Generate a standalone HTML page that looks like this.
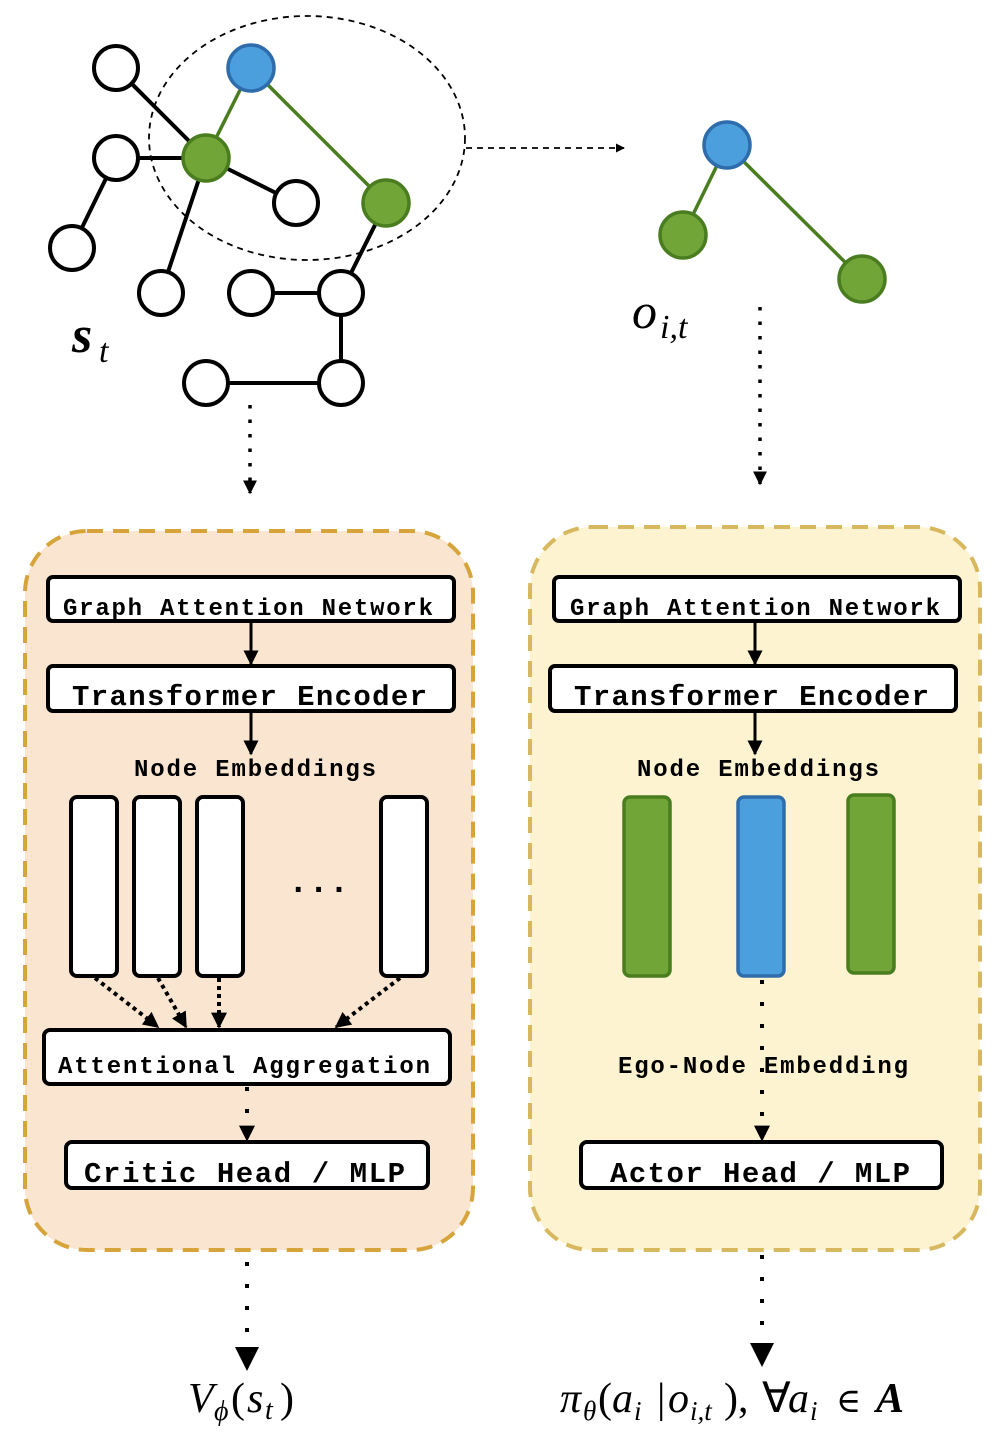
<!DOCTYPE html>
<html><head><meta charset="utf-8"><style>
html,body{margin:0;padding:0;background:#fff;}
svg{display:block;}
.m{font-family:"Liberation Mono",monospace;font-weight:bold;fill:#000;}
.math{font-family:"Liberation Serif",serif;font-style:italic;fill:#000;}
</style></head><body>
<svg width="1002" height="1438" viewBox="0 0 1002 1438" xmlns="http://www.w3.org/2000/svg">
<defs>
<marker id="ah" viewBox="0 0 10 10" refX="9" refY="5" markerWidth="5" markerHeight="5" orient="auto-start-reverse"><path d="M0,0L10,5L0,10z" fill="#000"/></marker>
<marker id="ah2" viewBox="0 0 10 10" refX="9" refY="5" markerWidth="4" markerHeight="4" orient="auto-start-reverse"><path d="M0,0L10,5L0,10z" fill="#000"/></marker>
</defs>
<!-- left graph -->
<g stroke="#000" stroke-width="4" fill="none">
<line x1="116" y1="68" x2="206" y2="158"/>
<line x1="116" y1="158" x2="206" y2="158"/>
<line x1="116" y1="158" x2="72" y2="248"/>
<line x1="206" y1="158" x2="296" y2="203"/>
<line x1="206" y1="158" x2="161" y2="293"/>
<line x1="386" y1="203" x2="341" y2="293"/>
<line x1="251" y1="293" x2="341" y2="293"/>
<line x1="341" y1="293" x2="341" y2="383"/>
<line x1="206" y1="383" x2="341" y2="383"/>
</g>
<g stroke="#4a7d20" stroke-width="3.5">
<line x1="251" y1="68" x2="206" y2="158"/>
<line x1="251" y1="68" x2="386" y2="203"/>
</g>
<ellipse cx="307" cy="138" rx="158" ry="122" fill="none" stroke="#000" stroke-width="1.8" stroke-dasharray="6,5"/>
<g fill="#fff" stroke="#000" stroke-width="4">
<circle cx="116" cy="68" r="22"/><circle cx="116" cy="158" r="22"/><circle cx="72" cy="248" r="22"/>
<circle cx="161" cy="293" r="22"/><circle cx="296" cy="203" r="22"/><circle cx="251" cy="293" r="22"/>
<circle cx="341" cy="293" r="22"/><circle cx="206" cy="383" r="22"/><circle cx="341" cy="383" r="22"/>
</g>
<circle cx="251" cy="68" r="23" fill="#4a9fdc" stroke="#2e6cab" stroke-width="3.5"/>
<circle cx="206" cy="158" r="23" fill="#72a538" stroke="#4a7d20" stroke-width="3.5"/>
<circle cx="386" cy="203" r="23" fill="#72a538" stroke="#4a7d20" stroke-width="3.5"/>
<line x1="466" y1="148" x2="624" y2="148" stroke="#000" stroke-width="1.8" stroke-dasharray="6,5" marker-end="url(#ah)"/>
<text x="72" y="352" class="math" font-size="52" font-weight="bold">s</text><text x="99" y="362" class="math" font-size="34">t</text>
<!-- right graph -->
<g stroke="#4a7d20" stroke-width="3.5">
<line x1="727" y1="145" x2="683" y2="235"/>
<line x1="727" y1="145" x2="862" y2="279"/>
</g>
<circle cx="727" cy="145" r="23" fill="#4a9fdc" stroke="#2e6cab" stroke-width="3.5"/>
<circle cx="683" cy="235" r="23" fill="#72a538" stroke="#4a7d20" stroke-width="3.5"/>
<circle cx="862" cy="279" r="23" fill="#72a538" stroke="#4a7d20" stroke-width="3.5"/>
<text x="632" y="328" class="math" font-size="50">o</text><text x="660" y="338" class="math" font-size="34">i,t</text>
<!-- dotted arrows from graphs -->
<line x1="250" y1="405" x2="250" y2="493" stroke="#000" stroke-width="3.5" stroke-dasharray="3.5,11" marker-end="url(#ah2)"/>
<line x1="760" y1="307" x2="760" y2="484" stroke="#000" stroke-width="3.5" stroke-dasharray="3.5,11" marker-end="url(#ah2)"/>
<!-- panels -->
<rect x="25" y="531" width="448" height="719" rx="62" fill="#fae6d0" stroke="#d6a43a" stroke-width="4" stroke-dasharray="16,10"/>
<rect x="530" y="527" width="450" height="723" rx="62" fill="#fdf3d1" stroke="#d7b85e" stroke-width="4" stroke-dasharray="16,10"/>
<g fill="#fff" stroke="#000" stroke-width="4">
<rect x="48" y="577" width="406" height="44" rx="5"/>
<rect x="48" y="666" width="406" height="45" rx="5"/>
<rect x="44" y="1030" width="406" height="54" rx="6"/>
<rect x="66" y="1142" width="362" height="46" rx="6"/>
<rect x="71" y="797" width="46" height="179" rx="6"/>
<rect x="134" y="797" width="46" height="179" rx="6"/>
<rect x="197" y="797" width="46" height="179" rx="6"/>
<rect x="381" y="797" width="46" height="179" rx="6"/>
<rect x="554" y="577" width="406" height="44" rx="5"/>
<rect x="550" y="666" width="406" height="45" rx="5"/>
<rect x="581" y="1142" width="361" height="46" rx="6"/>
</g>
<text x="63" y="615" class="m" font-size="24" textLength="370" lengthAdjust="spacing">Graph Attention Network</text>
<text x="72" y="705" class="m" font-size="29" textLength="355" lengthAdjust="spacing">Transformer Encoder</text>
<text x="134" y="776" class="m" font-size="24" textLength="242" lengthAdjust="spacing">Node Embeddings</text>
<text x="288" y="892" class="m" font-size="34">...</text>
<text x="58" y="1073" class="m" font-size="24" textLength="372" lengthAdjust="spacing">Attentional Aggregation</text>
<text x="84" y="1182" class="m" font-size="29" textLength="321" lengthAdjust="spacing">Critic Head / MLP</text>
<text x="570" y="615" class="m" font-size="24" textLength="370" lengthAdjust="spacing">Graph Attention Network</text>
<text x="574" y="705" class="m" font-size="29" textLength="355" lengthAdjust="spacing">Transformer Encoder</text>
<text x="637" y="776" class="m" font-size="24" textLength="242" lengthAdjust="spacing">Node Embeddings</text>
<text x="618" y="1073" class="m" font-size="24" textLength="290" lengthAdjust="spacing">Ego-Node Embedding</text>
<text x="610" y="1182" class="m" font-size="29" textLength="300" lengthAdjust="spacing">Actor Head / MLP</text>
<rect x="624" y="797" width="46" height="179" rx="6" fill="#72a538" stroke="#4a7d20" stroke-width="3.5"/>
<rect x="738" y="797" width="46" height="179" rx="6" fill="#4a9fdc" stroke="#2e6cab" stroke-width="3.5"/>
<rect x="848" y="795" width="46" height="178" rx="6" fill="#72a538" stroke="#4a7d20" stroke-width="3.5"/>
<g stroke="#000" stroke-width="3">
<line x1="251" y1="621" x2="251" y2="664" marker-end="url(#ah)"/>
<line x1="251" y1="711" x2="251" y2="754" marker-end="url(#ah)"/>
<line x1="755" y1="621" x2="755" y2="664" marker-end="url(#ah)"/>
<line x1="755" y1="711" x2="755" y2="754" marker-end="url(#ah)"/>
</g>
<g stroke="#000" stroke-width="4" stroke-dasharray="4,4">
<line x1="95" y1="978" x2="158" y2="1027" marker-end="url(#ah2)"/>
<line x1="158" y1="978" x2="186" y2="1027" marker-end="url(#ah2)"/>
<line x1="219" y1="978" x2="219" y2="1027" marker-end="url(#ah2)"/>
<line x1="400" y1="978" x2="336" y2="1027" marker-end="url(#ah2)"/>
</g>
<g stroke="#000" stroke-width="4" stroke-dasharray="4,18">
<line x1="247" y1="1087" x2="247" y2="1140" marker-end="url(#ah2)"/>
<line x1="762" y1="980" x2="762" y2="1140" marker-end="url(#ah2)"/>
<line x1="247" y1="1262" x2="247" y2="1350"/>
<line x1="762" y1="1255" x2="762" y2="1345"/>
</g>
<path d="M235,1347L259,1347L247,1371z" fill="#000"/>
<path d="M750,1343L774,1343L762,1367z" fill="#000"/>
<!-- formulas -->
<text x="188" y="1412" class="math" font-size="42">V</text>
<text x="214" y="1420" class="math" font-size="28">ϕ</text>
<text x="231" y="1412" font-family="Liberation Serif,serif" font-size="42">(</text>
<text x="247" y="1412" class="math" font-size="42">s</text>
<text x="265" y="1419" class="math" font-size="28">t</text>
<text x="280" y="1412" font-family="Liberation Serif,serif" font-size="42">)</text>
<text x="560" y="1412" class="math" font-size="42">π</text>
<text x="583" y="1420" class="math" font-size="27">θ</text>
<text x="598" y="1412" font-family="Liberation Serif,serif" font-size="42">(</text>
<text x="612" y="1412" class="math" font-size="42">a</text>
<text x="634" y="1420" class="math" font-size="27">i</text>
<text x="657" y="1412" font-family="Liberation Serif,serif" font-size="42">|</text>
<text x="668" y="1412" class="math" font-size="42">o</text>
<text x="690" y="1420" class="math" font-size="27">i,t</text>
<text x="724" y="1412" font-family="Liberation Serif,serif" font-size="42">),</text>
<text x="762" y="1412" font-family="Liberation Serif,serif" font-size="42">∀</text>
<text x="788" y="1412" class="math" font-size="42">a</text>
<text x="810" y="1420" class="math" font-size="27">i</text>
<text x="836" y="1412" font-family="DejaVu Serif,serif" font-size="34">∈</text>
<text x="876" y="1412" class="math" font-size="42" font-weight="bold">A</text>
</svg>
</body></html>
